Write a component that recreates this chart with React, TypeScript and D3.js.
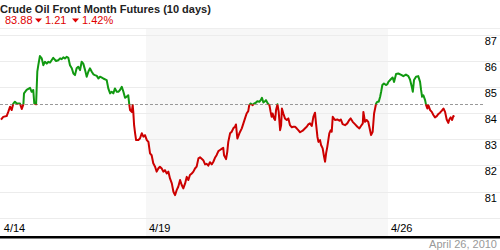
import React from "react";
import * as d3 from "d3";

const title = "Crude Oil Front Month Futures (10 days)";
const lastPrice = "83.88";
const change = "1.21";
const changePct = "1.42%";
const dateLabel = "April 26, 2010";
const refPrice = 84.34;

const yTicks = [87, 86, 85, 84, 83, 82, 81];
const yGrid = [87, 86, 85, 84, 83, 82, 81, 80];
const xTickHours = [0, 72, 192];
const xTickLabels = ["4/14", "4/19", "4/26"];
const shadedWeek = [72, 192];

// hours since 4/14 open (trading hours, weekends removed)
const hours = [
  0.1, 1.2, 2.9, 3.7, 4.6, 5.4, 6.2, 7.0, 7.9, 9.5, 10.4, 11.2, 11.5, 12.8, 14.5, 15.3, 16.1, 16.6, 17.5, 18.1,
  18.6, 19.4, 20.3, 21.1, 21.9, 22.8, 23.6, 24.4, 25.2, 26.0, 27.4, 28.5, 29.4, 30.2, 31.0, 31.8, 32.7, 33.5, 34.3, 35.2,
  36.0, 36.8, 37.6, 38.4, 39.3, 40.1, 40.9, 41.8, 42.6, 43.4, 44.2, 45.1, 45.9, 46.7, 47.6, 48.4, 49.2, 50.8, 52.5, 53.3,
  54.2, 55.0, 55.8, 56.6, 57.5, 58.3, 59.1, 60.0, 60.8, 61.6, 62.4, 63.2, 63.7, 64.1, 64.9, 65.4, 65.7, 66.1, 66.6, 67.1,
  68.2, 69.0, 69.9, 70.7, 71.5, 72.4, 73.2, 74.0, 74.8, 75.6, 76.5, 77.3, 78.1, 78.9, 79.8, 80.6, 81.4, 82.3, 83.1, 83.9,
  84.8, 85.6, 86.4, 87.2, 88.0, 88.9, 89.7, 90.5, 91.4, 92.2, 93.0, 93.8, 94.7, 95.5, 96.3, 97.1, 98.0, 98.8, 100.4, 101.3,
  102.1, 102.9, 103.7, 104.6, 105.4, 106.2, 107.0, 107.9, 108.7, 109.5, 110.3, 110.7, 111.7, 112.3, 112.8, 113.7, 114.5, 115.3, 116.1, 116.6,
  117.3, 118.3, 119.5, 120.3, 121.1, 121.9, 122.7, 123.2, 123.9, 124.9, 125.6, 126.6, 127.2, 128.2, 128.9, 129.5, 130.2, 131.0, 131.5, 132.4,
  133.2, 133.8, 134.3, 134.8, 135.5, 136.0, 136.5, 137.2, 137.8, 138.5, 139.0, 139.4, 140.1, 140.9, 141.8, 142.6, 143.4, 144.3, 145.1, 145.9,
  146.7, 147.5, 148.4, 149.7, 150.9, 151.7, 152.5, 153.3, 154.2, 155.0, 155.8, 156.3, 157.0, 157.5, 158.3, 158.8, 159.6, 160.3, 160.8, 161.3,
  161.9, 162.4, 162.9, 163.6, 164.1, 164.6, 165.7, 166.9, 167.9, 168.6, 169.5, 170.7, 171.8, 172.8, 173.5, 174.5, 175.6, 176.8, 177.8, 178.6,
  179.5, 179.8, 180.6, 181.4, 182.2, 183.1, 183.6, 184.4, 185.1, 186.1, 186.7, 187.4, 188.1, 188.6, 189.2, 190.0, 191.0, 191.7, 192.2, 193.4,
  194.3, 195.0, 196.0, 197.1, 198.8, 199.6, 200.9, 202.1, 202.9, 203.8, 204.3, 204.9, 205.9, 207.0, 207.9, 208.4, 208.9, 209.5, 210.4, 210.9,
  211.5, 212.0, 212.9, 213.7, 214.5, 215.3, 216.2, 217.0, 217.8, 218.7, 219.5, 220.3, 221.1, 221.9, 222.4, 223.1, 223.8, 224.4, 224.9,
];

const prices = [
  83.75, 83.86, 83.89, 84.05, 84.25, 84.12, 84.37, 84.44, 84.37, 84.37, 84.16, 84.34, 84.76, 84.89, 84.97, 84.82, 84.89, 84.37, 84.34, 85.59,
  85.84, 86.19, 86.10, 85.84, 85.97, 85.90, 85.97, 85.94, 86.03, 86.12, 86.00, 86.03, 86.10, 86.07, 86.14, 86.10, 86.16, 86.12, 85.84, 85.72,
  85.52, 85.46, 85.72, 85.78, 85.65, 85.97, 85.90, 85.65, 85.40, 85.59, 85.72, 85.59, 85.49, 85.46, 85.43, 85.33, 85.40, 85.33, 85.27, 84.95,
  84.76, 84.82, 84.76, 84.95, 84.82, 84.82, 84.89, 85.01, 84.82, 84.59, 84.63, 84.69, 84.34, 84.12, 84.05, 84.31, 84.05, 83.54, 83.23, 82.97,
  82.97, 83.03, 83.23, 83.10, 83.16, 82.97, 82.90, 82.46, 82.39, 82.08, 81.95, 81.76, 81.88, 81.95, 81.88, 81.76, 81.82, 81.69, 81.76, 81.50,
  81.31, 80.99, 80.86, 81.05, 81.18, 81.44, 81.25, 81.12, 81.31, 81.56, 81.44, 81.63, 81.69, 81.76, 81.88, 81.95, 82.27, 82.31, 82.20, 82.04,
  82.06, 81.99, 82.12, 82.04, 82.14, 82.29, 82.39, 82.55, 82.59, 82.63, 82.67, 82.39, 82.24, 82.52, 82.90, 83.23, 83.29, 83.42, 83.48, 83.57,
  83.03, 83.23, 83.42, 83.61, 83.80, 83.99, 84.08, 84.31, 84.37, 84.31, 84.37, 84.41, 84.46, 84.44, 84.50, 84.59, 84.41, 84.46, 84.50, 84.37,
  84.31, 84.05, 83.86, 83.99, 83.80, 83.74, 84.12, 84.34, 84.05, 83.35, 83.54, 84.18, 83.99, 83.80, 83.74, 83.80, 83.54, 83.46, 83.48, 83.48,
  83.42, 83.35, 83.27, 83.33, 83.42, 83.48, 83.57, 83.61, 83.51, 83.86, 84.02, 83.61, 83.10, 82.90, 82.97, 82.78, 82.65, 82.33, 82.14, 82.46,
  82.71, 82.97, 83.23, 83.35, 83.29, 83.86, 83.74, 83.76, 83.71, 83.76, 83.58, 83.54, 83.61, 83.74, 83.80, 83.67, 83.58, 83.48, 83.42, 83.51,
  83.61, 84.05, 83.67, 83.74, 83.67, 83.35, 83.16, 83.29, 83.99, 84.37, 84.44, 84.44, 84.63, 84.82, 85.08, 85.14, 85.08, 85.11, 85.20, 85.30,
  85.37, 85.20, 85.50, 85.52, 85.46, 85.42, 85.48, 85.42, 85.29, 85.01, 84.82, 85.27, 85.40, 85.42, 85.20, 84.89, 84.63, 84.69, 84.50, 84.31,
  84.18, 84.31, 84.12, 84.05, 83.93, 83.84, 83.89, 83.97, 84.02, 84.10, 84.18, 84.05, 83.76, 83.63, 83.76, 83.84, 83.74, 83.89, 83.86,
];

const W = 500;
const H = 250;
const plotTop = 28;
const plotBottom = 236;
const FONT = "'Liberation Sans', Arial, sans-serif";

export default function App() {
  const x = d3.scaleLinear().domain([0, 240]).range([0.8, 484.8]);
  const y = d3.scaleLinear().domain([80, 87]).range([217.6, 34.9]);
  const data = hours.map((h, i) => ({ h, v: prices[i] }));
  const line = d3
    .line<{ h: number; v: number }>()
    .x((d) => x(d.h))
    .y((d) => y(d.v));
  const path = line(data) || "";
  const yRef = y(refPrice);

  return (
    <svg
      width={W}
      height={H}
      style={{ position: "absolute", left: 0, top: 0, background: "#fff" }}
      fontFamily={FONT}
    >
      <defs>
        <clipPath id="above">
          <rect x={0} y={0} width={W} height={yRef} />
        </clipPath>
        <clipPath id="below">
          <rect x={0} y={yRef} width={W} height={H - yRef} />
        </clipPath>
      </defs>

      <rect
        x={x(shadedWeek[0])}
        y={plotTop}
        width={x(shadedWeek[1]) - x(shadedWeek[0])}
        height={plotBottom - plotTop}
        fill="#f7f7f7"
      />
      <line x1={0} x2={W} y1={plotTop + 0.5} y2={plotTop + 0.5} stroke="#eeeeee" />
      {yGrid.map((t) => (
        <line key={t} x1={0} x2={W} y1={Math.round(y(t)) + 0.5} y2={Math.round(y(t)) + 0.5} stroke="#ececec" />
      ))}
      {yTicks.map((t) => (
        <text key={t} x={497} y={y(t) + 10} textAnchor="end" fontSize={11} fill="#000">
          {t}
        </text>
      ))}
      <line
        x1={0}
        x2={484}
        y1={Math.round(yRef) + 0.5}
        y2={Math.round(yRef) + 0.5}
        stroke="#999"
        strokeDasharray="3,2"
      />
      <path d={path} fill="none" stroke="#cc0000" strokeWidth={2} clipPath="url(#below)" strokeLinejoin="round" />
      <path d={path} fill="none" stroke="#119911" strokeWidth={2} clipPath="url(#above)" strokeLinejoin="round" />

      {xTickHours.map((h, i) => (
        <text key={h} x={x(h) + 3} y={231.5} fontSize={11} fill="#000">
          {xTickLabels[i]}
        </text>
      ))}
      <rect x={0} y={plotBottom} width={W} height={2.5} fill="#000" />
      <text x={497} y={248} textAnchor="end" fontSize={11} fill="#999">
        {dateLabel}
      </text>

      <text x={0} y={12.5} fontSize={11} fontWeight="bold" fill="#222">
        {title}
      </text>
      <g fontSize={11} fill="#e00000">
        <text x={5} y={24}>{lastPrice}</text>
        <path d="M35,18.5 L42,18.5 L38.5,22.5 Z" />
        <text x={45} y={24}>{change}</text>
        <path d="M72,18.5 L79,18.5 L75.5,22.5 Z" />
        <text x={82} y={24}>{changePct}</text>
      </g>
    </svg>
  );
}
